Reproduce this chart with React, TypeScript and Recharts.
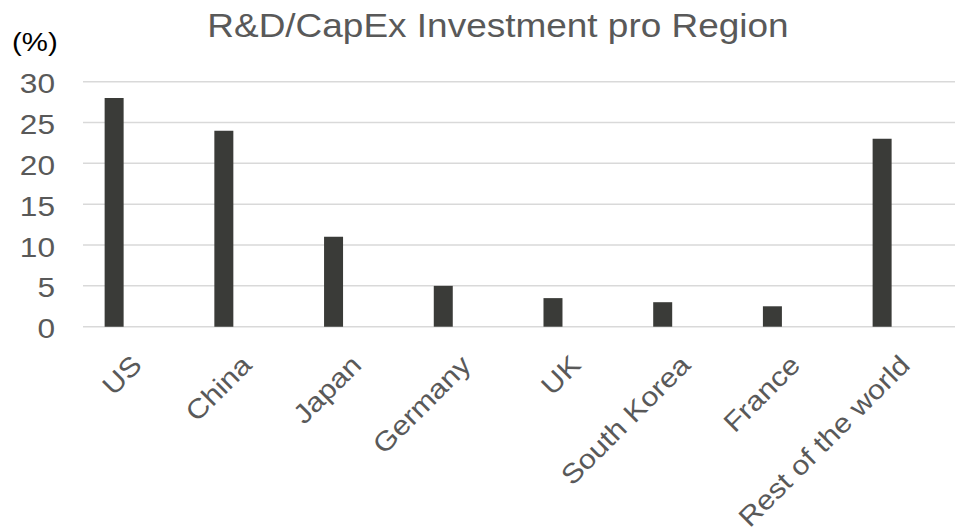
import React from "react";
import {
  BarChart,
  Bar,
  CartesianGrid,
  XAxis,
  YAxis,
} from "recharts";

const regions = [
  "US",
  "China",
  "Japan",
  "Germany",
  "UK",
  "South Korea",
  "France",
  "Rest of the world",
];
const shares = [28, 24, 11, 5, 3.5, 3, 2.5, 23];
const yTicks = [0, 5, 10, 15, 20, 25, 30];

const data = regions.map((region, i) => ({ idx: i, region, share: shares[i] }));

// the reference text is a little wider than plain Arial
const STRETCH = 1.13;
const TEXT = "#595959";

const YTick = (props: any) => {
  const { y, payload } = props;
  return (
    <text
      transform={`translate(55, ${y + 11.5}) scale(${STRETCH}, 1)`}
      textAnchor="end"
      fill={TEXT}
      fontSize={28}
      fontFamily="Liberation Sans, Arial, sans-serif"
    >
      {payload.value}
    </text>
  );
};

const XTick = (props: any) => {
  const { x, y, payload } = props;
  return (
    <text
      transform={`translate(${x + 29}, ${y + 32}) rotate(-45) scale(${STRETCH}, 1)`}
      textAnchor="end"
      fill={TEXT}
      fontSize={27}
      fontFamily="Liberation Sans, Arial, sans-serif"
    >
      {regions[payload.value]}
    </text>
  );
};

export default function App() {
  return (
    <div
      style={{
        position: "absolute",
        left: 0,
        top: 0,
        width: 955,
        height: 531,
        background: "#fff",
        fontFamily: "Liberation Sans, Arial, sans-serif",
      }}
    >
      <div
        style={{
          position: "absolute",
          left: 497.5,
          top: 9,
          fontSize: 33,
          lineHeight: "33px",
          color: TEXT,
          whiteSpace: "nowrap",
          transform: `translateX(-50%) scaleX(1.12)`,
        }}
      >
        R&amp;D/CapEx Investment pro Region
      </div>
      <div
        style={{
          position: "absolute",
          left: 12,
          top: 29,
          fontSize: 26,
          lineHeight: "26px",
          color: "#000",
          whiteSpace: "nowrap",
          transform: `scaleX(${STRETCH})`,
          transformOrigin: "left center",
        }}
      >
        (%)
      </div>
      <BarChart
        width={955}
        height={531}
        data={data}
        margin={{ top: 81.7, right: 0, bottom: 0, left: 0 }}
      >
        <CartesianGrid vertical={false} stroke="#d9d9d9" strokeWidth={1.5} />
        <XAxis
          type="number"
          dataKey="idx"
          domain={[-0.287, 7.661]}
          ticks={[0, 1, 2, 3, 4, 5, 6, 7]}
          axisLine={false}
          tickLine={false}
          interval={0}
          tick={<XTick />}
          height={204.3}
        />
        <YAxis
          type="number"
          domain={[0, 30]}
          ticks={yTicks}
          axisLine={false}
          tickLine={false}
          width={83}
          tick={<YTick />}
        />
        <Bar
          dataKey="share"
          fill="#3a3b38"
          barSize={19}
          isAnimationActive={false}
        />
      </BarChart>
    </div>
  );
}
